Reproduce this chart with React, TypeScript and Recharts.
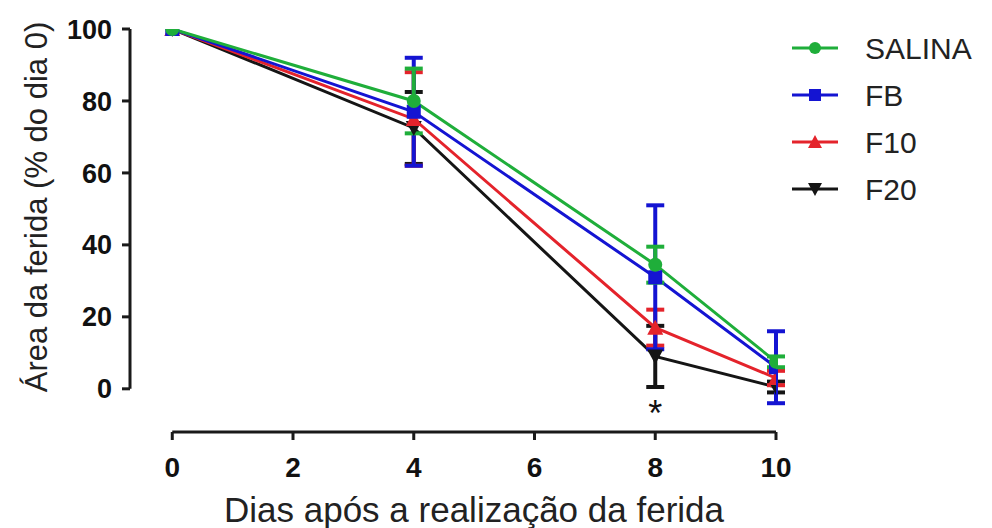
import React from 'react';
import {
  LineChart,
  Line,
  XAxis,
  YAxis,
  ErrorBar,
  ReferenceLine,
  LabelList,
  Label,
} from 'recharts';

// days after the wound was made
const days = [0, 4, 8, 10];

// wound area, % of day 0 (mean and SD)
const salina = [100, 80, 34.5, 7.5];
const salinaErr = [null, 9, 5, 1.5];
const fb = [100, 77, 31, 6];
const fbErr = [null, 15, 20, 10];
const f10 = [100, 75, 17, 3];
const f10Err = [null, 13, 5, 2];
const f20 = [100, 72.5, 9, 0.5];
const f20Err = [null, 10, 8.5, 1.5];
const signif = ['', '', '*', ''];

const xTicks = [0, 2, 4, 6, 8, 10];
const yTicks = [0, 20, 40, 60, 80, 100];

const FONT = '"Liberation Sans", Arial, sans-serif';
const AXIS = '#1a1a1a';

type Shape = 'circle' | 'square' | 'triangle' | 'triangleDown';

const series: { key: string; name: string; color: string; shape: Shape }[] = [
  { key: 'salina', name: 'SALINA', color: '#1fae3a', shape: 'circle' },
  { key: 'fb', name: 'FB', color: '#1414d2', shape: 'square' },
  { key: 'f10', name: 'F10', color: '#e4232b', shape: 'triangle' },
  { key: 'f20', name: 'F20', color: '#151515', shape: 'triangleDown' },
];

const data = days.map((day, i) => ({
  day,
  salina: salina[i],
  salinaErr: salinaErr[i],
  fb: fb[i],
  fbErr: fbErr[i],
  f10: f10[i],
  f10Err: f10Err[i],
  f20: f20[i],
  f20Err: f20Err[i],
  sig: signif[i],
}));

function Marker({ cx, cy, shape, color, s = 7 }: { cx: number; cy: number; shape: Shape; color: string; s?: number }) {
  if (shape === 'circle') return <circle cx={cx} cy={cy} r={s} fill={color} />;
  if (shape === 'square') return <rect x={cx - s} y={cy - s} width={s * 2} height={s * 2} fill={color} />;
  if (shape === 'triangle')
    return <polygon points={`${cx},${cy - s - 1} ${cx - s - 1},${cy + s} ${cx + s + 1},${cy + s}`} fill={color} />;
  return <polygon points={`${cx},${cy + s + 1} ${cx - s - 1},${cy - s} ${cx + s + 1},${cy - s}`} fill={color} />;
}

// legend sits outside the chart so it doesn't eat into the plot width
function LegendBox() {
  return (
    <svg width={212} height={200} style={{ position: 'absolute', left: 780, top: 20 }}>
      {series.map((s, i) => {
        const y = 28 + i * 47;
        return (
          <g key={s.key}>
            <line x1={12} x2={58} y1={y} y2={y} stroke={s.color} strokeWidth={3} />
            <Marker cx={35} cy={y} shape={s.shape} color={s.color} s={6} />
            <text x={85} y={y} dy="0.36em" fontSize={30} fontFamily={FONT} fill="#222">
              {s.name}
            </text>
          </g>
        );
      })}
    </svg>
  );
}

export default function App() {
  // drawn bottom-up so SALINA sits on top, as in the figure
  const drawOrder = [...series].reverse();

  return (
    <div style={{ position: 'absolute', left: 0, top: 0, width: 992, height: 528, background: '#fff' }}>
      <LineChart width={992} height={528} data={data} margin={{ top: 29, right: 216, bottom: 36, left: 30 }}>
        <XAxis
          dataKey="day"
          type="number"
          domain={[-0.7, 10]}
          ticks={xTicks}
          allowDataOverflow
          axisLine={false}
          tickLine={{ stroke: AXIS, strokeWidth: 3 }}
          tickSize={8}
          tickMargin={17}
          height={60}
          tick={{ fill: '#111', fontSize: 28, fontWeight: 'bold', fontFamily: FONT }}
        >
          <Label
            content={({ viewBox }: any) => (
              <text
                x={viewBox.x + viewBox.width / 2 + 21}
                y={viewBox.y + 90}
                textAnchor="middle"
                fontSize={35}
                fontFamily={FONT}
                fill="#222"
              >
                Dias após a realização da ferida
              </text>
            )}
          />
        </XAxis>
        <YAxis
          type="number"
          domain={[-12, 100]}
          ticks={yTicks}
          allowDataOverflow
          width={100}
          axisLine={false}
          tickLine={{ stroke: AXIS, strokeWidth: 3 }}
          tickSize={8}
          tickMargin={10}
          tick={{ fill: '#111', fontSize: 27, fontWeight: 'bold', fontFamily: FONT }}
        >
          <Label
            content={({ viewBox }: any) => {
              const cx = viewBox.x + 6;
              const cy = viewBox.y + 178;
              return (
                <text
                  x={cx}
                  y={cy}
                  transform={`rotate(-90 ${cx} ${cy})`}
                  textAnchor="middle"
                  dy="0.36em"
                  fontSize={31}
                  fontFamily={FONT}
                  fill="#222"
                >
                  Área da ferida (% do dia 0)
                </text>
              );
            }}
          />
        </YAxis>

        {/* offset axis lines, Prism style */}
        <ReferenceLine
          segment={[{ x: -0.7, y: 0 }, { x: -0.7, y: 100 }]}
          stroke={AXIS}
          strokeWidth={3}
          ifOverflow="visible"
        />
        <ReferenceLine
          segment={[{ x: 0, y: -12 }, { x: 10, y: -12 }]}
          stroke={AXIS}
          strokeWidth={3}
          ifOverflow="visible"
        />

        {drawOrder.map((s) => (
          <Line
            key={s.key}
            dataKey={s.key}
            name={s.name}
            stroke={s.color}
            strokeWidth={3}
            isAnimationActive={false}
            activeDot={false}
            dot={(p: any) => (
              <Marker key={`${s.key}-${p.index}`} cx={p.cx} cy={p.cy} shape={s.shape} color={s.color} />
            )}
          >
            <ErrorBar dataKey={`${s.key}Err`} direction="y" width={9} stroke={s.color} strokeWidth={4} />
            {s.key === 'f20' && (
              <LabelList
                dataKey="sig"
                content={(p: any) =>
                  p.value ? (
                    <text x={p.x} y={p.y + 70} textAnchor="middle" fontSize={36} fontFamily={FONT} fill="#111">
                      {p.value}
                    </text>
                  ) : null
                }
              />
            )}
          </Line>
        ))}
      </LineChart>
      <LegendBox />
    </div>
  );
}
